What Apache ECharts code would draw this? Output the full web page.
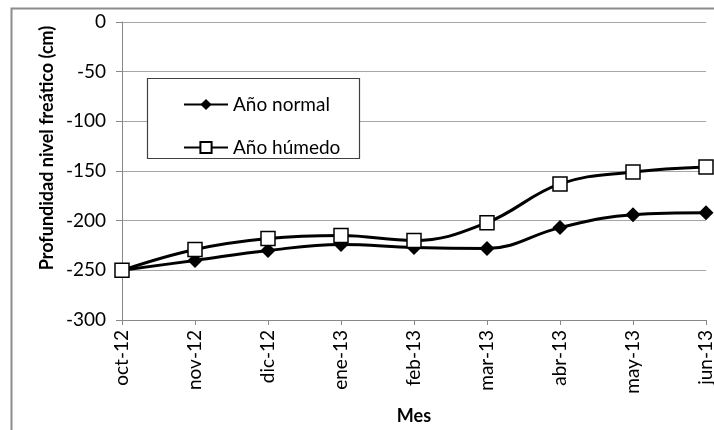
<!DOCTYPE html>
<html>
<head>
<meta charset="utf-8">
<script src="https://cdn.jsdelivr.net/npm/echarts@6/dist/echarts.min.js"></script>
<style>
  html, body { margin: 0; padding: 0; background: #fff; }
  #chart { width: 714px; height: 430px; }
</style>
</head>
<body>
<div id="chart"></div>
<script>
// Monthly water-table depth (cm), two hydrological years
const months = ['oct-12', 'nov-12', 'dic-12', 'ene-13', 'feb-13', 'mar-13', 'abr-13', 'may-13', 'jun-13'];
const normalYear = [-250, -240, -230, -224, -227, -228, -207, -194, -192];
const wetYear = [-250, -229, -218, -215, -220, -202, -163, -151, -146];
const yTicks = { min: -300, max: 0, step: 50 };

const FONT = 'Lato';

const chart = echarts.init(document.getElementById('chart'));

chart.setOption({
  backgroundColor: '#fff',
  animation: false,
  grid: { left: 122, right: 8, top: 22, bottom: 110, outerBoundsMode: 'none', containLabel: false },
  graphic: [
    {
      type: 'rect',
      shape: { x: 11.5, y: 8.5, width: 800, height: 500 },
      style: { fill: 'none', stroke: '#8c8c8c', lineWidth: 2 },
      silent: true
    },
    {
      type: 'rect',
      shape: { x: 147.5, y: 78.5, width: 212, height: 80 },
      style: { fill: '#fff', stroke: '#404040', lineWidth: 1.2 },
      z: 10,
      silent: true
    },
    {
      type: 'text',
      x: 47,
      y: 148,
      rotation: Math.PI / 2,
      style: {
        text: 'Profundidad nivel freático (cm)',
        font: 'bold 18px ' + FONT,
        fill: '#000',
        textAlign: 'center',
        textVerticalAlign: 'middle'
      },
      silent: true
    }
  ],
  legend: {
    orient: 'vertical',
    left: 183,
    top: 95,
    padding: 0,
    itemWidth: 44,
    itemHeight: 14,
    itemGap: 24,
    z: 20,
    textStyle: { fontFamily: FONT, fontSize: 19, color: '#000' },
    data: ['Año normal', 'Año húmedo']
  },
  xAxis: {
    type: 'category',
    data: months,
    boundaryGap: false,
    name: 'Mes',
    nameLocation: 'middle',
    nameGap: 87,
    nameTextStyle: { fontFamily: FONT, fontSize: 18, fontWeight: 'bold', color: '#000' },
    axisLine: { onZero: false, lineStyle: { color: '#888', width: 1 } },
    axisTick: { show: true, length: 5, lineStyle: { color: '#888' } },
    axisLabel: { rotate: 90, margin: 10, fontFamily: FONT, fontSize: 19, color: '#000' },
    splitLine: { show: false }
  },
  yAxis: {
    type: 'value',
    min: yTicks.min,
    max: yTicks.max,
    interval: yTicks.step,
    axisLine: { show: true, lineStyle: { color: '#888', width: 1 } },
    axisTick: { show: true, length: 6, lineStyle: { color: '#888' } },
    axisLabel: { margin: 16, fontFamily: FONT, fontSize: 19, color: '#000' },
    splitLine: { show: true, lineStyle: { color: '#a6a6a6', width: 1 } }
  },
  series: [
    {
      name: 'Año normal',
      type: 'line',
      data: normalYear,
      smooth: 0.4,
      symbol: 'diamond',
      symbolSize: 15,
      lineStyle: { color: '#000', width: 3 },
      itemStyle: { color: '#000', borderColor: '#000', borderWidth: 0 },
      z: 3
    },
    {
      name: 'Año húmedo',
      type: 'line',
      data: wetYear,
      smooth: 0.4,
      symbol: 'rect',
      symbolSize: 14,
      lineStyle: { color: '#000', width: 3 },
      itemStyle: { color: '#fff', borderColor: '#000', borderWidth: 1.5 },
      z: 4
    }
  ]
});
</script>
</body>
</html>
